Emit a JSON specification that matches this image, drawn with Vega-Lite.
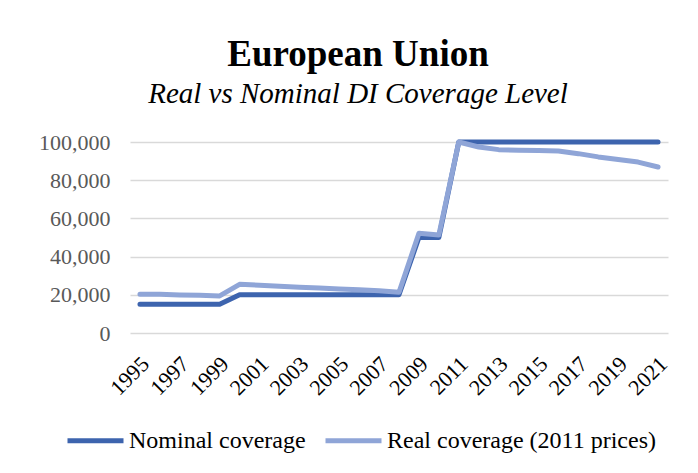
{
  "$schema": "https://vega.github.io/schema/vega-lite/v6.json",
  "width": 538,
  "height": 191,
  "padding": {"left": 38, "top": 36, "right": 33, "bottom": 10},
  "background": "white",
  "title": {
    "text": "European Union",
    "subtitle": "Real vs Nominal DI Coverage Level",
    "font": "Liberation Serif",
    "fontSize": 37,
    "fontWeight": "bold",
    "color": "black",
    "subtitleFont": "Liberation Serif",
    "subtitleFontSize": 29,
    "subtitleFontStyle": "italic",
    "subtitleColor": "black",
    "subtitlePadding": 6,
    "anchor": "middle",
    "dx": -41,
    "offset": 21
  },
  "data": {
    "values": [
      {"year": "1995", "series": "Nominal coverage", "value": 15000},
      {"year": "1996", "series": "Nominal coverage", "value": 15000},
      {"year": "1997", "series": "Nominal coverage", "value": 15000},
      {"year": "1998", "series": "Nominal coverage", "value": 15000},
      {"year": "1999", "series": "Nominal coverage", "value": 15000},
      {"year": "2000", "series": "Nominal coverage", "value": 20000},
      {"year": "2001", "series": "Nominal coverage", "value": 20000},
      {"year": "2002", "series": "Nominal coverage", "value": 20000},
      {"year": "2003", "series": "Nominal coverage", "value": 20000},
      {"year": "2004", "series": "Nominal coverage", "value": 20000},
      {"year": "2005", "series": "Nominal coverage", "value": 20000},
      {"year": "2006", "series": "Nominal coverage", "value": 20000},
      {"year": "2007", "series": "Nominal coverage", "value": 20000},
      {"year": "2008", "series": "Nominal coverage", "value": 20000},
      {"year": "2009", "series": "Nominal coverage", "value": 50000},
      {"year": "2010", "series": "Nominal coverage", "value": 50000},
      {"year": "2011", "series": "Nominal coverage", "value": 100000},
      {"year": "2012", "series": "Nominal coverage", "value": 100000},
      {"year": "2013", "series": "Nominal coverage", "value": 100000},
      {"year": "2014", "series": "Nominal coverage", "value": 100000},
      {"year": "2015", "series": "Nominal coverage", "value": 100000},
      {"year": "2016", "series": "Nominal coverage", "value": 100000},
      {"year": "2017", "series": "Nominal coverage", "value": 100000},
      {"year": "2018", "series": "Nominal coverage", "value": 100000},
      {"year": "2019", "series": "Nominal coverage", "value": 100000},
      {"year": "2020", "series": "Nominal coverage", "value": 100000},
      {"year": "2021", "series": "Nominal coverage", "value": 100000},
      {"year": "1995", "series": "Real coverage (2011 prices)", "value": 20300},
      {"year": "1996", "series": "Real coverage (2011 prices)", "value": 20300},
      {"year": "1997", "series": "Real coverage (2011 prices)", "value": 19900},
      {"year": "1998", "series": "Real coverage (2011 prices)", "value": 19700},
      {"year": "1999", "series": "Real coverage (2011 prices)", "value": 19400},
      {"year": "2000", "series": "Real coverage (2011 prices)", "value": 25500},
      {"year": "2001", "series": "Real coverage (2011 prices)", "value": 25000},
      {"year": "2002", "series": "Real coverage (2011 prices)", "value": 24500},
      {"year": "2003", "series": "Real coverage (2011 prices)", "value": 24000},
      {"year": "2004", "series": "Real coverage (2011 prices)", "value": 23600},
      {"year": "2005", "series": "Real coverage (2011 prices)", "value": 23100},
      {"year": "2006", "series": "Real coverage (2011 prices)", "value": 22600},
      {"year": "2007", "series": "Real coverage (2011 prices)", "value": 22100},
      {"year": "2008", "series": "Real coverage (2011 prices)", "value": 21300},
      {"year": "2009", "series": "Real coverage (2011 prices)", "value": 52200},
      {"year": "2010", "series": "Real coverage (2011 prices)", "value": 51300},
      {"year": "2011", "series": "Real coverage (2011 prices)", "value": 100000},
      {"year": "2012", "series": "Real coverage (2011 prices)", "value": 97400},
      {"year": "2013", "series": "Real coverage (2011 prices)", "value": 96000},
      {"year": "2014", "series": "Real coverage (2011 prices)", "value": 95700},
      {"year": "2015", "series": "Real coverage (2011 prices)", "value": 95600},
      {"year": "2016", "series": "Real coverage (2011 prices)", "value": 95300},
      {"year": "2017", "series": "Real coverage (2011 prices)", "value": 93900},
      {"year": "2018", "series": "Real coverage (2011 prices)", "value": 92200},
      {"year": "2019", "series": "Real coverage (2011 prices)", "value": 90800},
      {"year": "2020", "series": "Real coverage (2011 prices)", "value": 89500},
      {"year": "2021", "series": "Real coverage (2011 prices)", "value": 86900}
    ]
  },
  "mark": {"type": "line", "strokeWidth": 5, "strokeCap": "round", "strokeJoin": "round"},
  "encoding": {
    "x": {
      "field": "year",
      "type": "ordinal",
      "scale": {"type": "point", "padding": 0.5},
      "axis": {
        "title": null,
        "labelAngle": -45,
        "labelAlign": "right",
        "labelBaseline": "middle",
        "labelExpr": "(toNumber(datum.value) - 1995) % 2 == 0 ? datum.value : ''",
        "labelFont": "Liberation Serif",
        "labelFontSize": 22,
        "labelColor": "black",
        "labelPadding": 27,
        "labelOffset": 5,
        "ticks": false,
        "domain": false,
        "grid": false,
        "labelOverlap": false
      }
    },
    "y": {
      "field": "value",
      "type": "quantitative",
      "scale": {"domain": [0, 100000], "nice": false},
      "axis": {
        "title": null,
        "values": [0, 20000, 40000, 60000, 80000, 100000],
        "format": ",d",
        "labelFont": "Liberation Serif",
        "labelFontSize": 22,
        "labelColor": "#595959",
        "labelPadding": 20,
        "ticks": false,
        "domain": false,
        "gridColor": "#d9d9d9",
        "gridWidth": 1.5
      }
    },
    "color": {
      "field": "series",
      "type": "nominal",
      "scale": {
        "domain": ["Nominal coverage", "Real coverage (2011 prices)"],
        "range": ["#3d64ae", "#8fa5d7"]
      },
      "legend": {
        "title": null,
        "orient": "none",
        "legendX": -65,
        "legendY": 268,
        "direction": "horizontal",
        "symbolType": "stroke",
        "symbolStrokeWidth": 5,
        "symbolSize": 3136,
        "labelFont": "Liberation Serif",
        "labelFontSize": 24,
        "labelColor": "black",
        "columnPadding": 9,
        "labelOffset": 3,
        "labelLimit": 400,
        "padding": 0
      }
    }
  },
  "config": {
    "view": {"stroke": null}
  }
}
